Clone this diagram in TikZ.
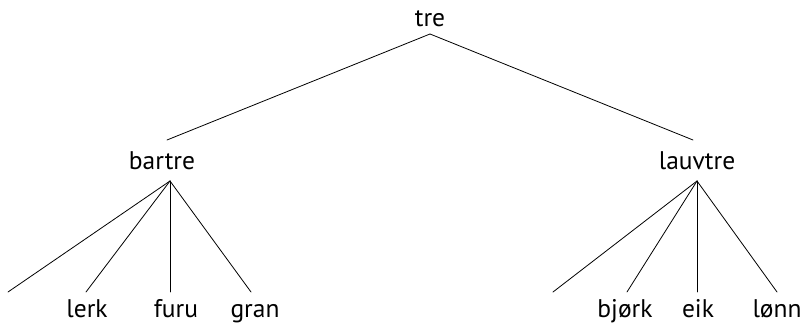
\documentclass[tikz,border=0pt]{standalone}
\usepackage{fontspec}
\setmainfont{PT Sans}
\tikzset{
  word/.style={anchor=base,inner sep=0pt,font=\fontsize{25.5}{30}\selectfont},
  branch/.style={line width=0.8pt,line cap=round}
}
\begin{document}
\begin{tikzpicture}[x=1pt,y=-1pt]
      \useasboundingbox (0,0) rectangle (803,328);
      \draw
        (430,27) node[word] (tre){tre}
        (162,170) node[word] (bartre){bartre}
        (697,170) node[word] (lauvtre){lauvtre}
        (87,318) node[word] (lerk){lerk}
        (176,318) node[word] (furu){furu}
        (255,318) node[word] (gran){gran}
        (625,318) node[word] (bjork){bjørk}
        (698,318) node[word] (eik){eik}
        (777,318) node[word] (lonn){lønn};
      \coordinate (tretop) at (430,34);
      \coordinate (barin) at (167,140);
      \coordinate (lauvin) at (693,140);
      \coordinate (barout) at (170,181);
      \coordinate (lauvout) at (697,181);
      \coordinate (barleaf) at (8,292);
      \coordinate (lerkin) at (86,292);
      \coordinate (furuin) at (170,292);
      \coordinate (granin) at (251,292);
      \coordinate (lauvleaf) at (553,292);
      \coordinate (bjorkin) at (627,292);
      \coordinate (eikin) at (697,292);
      \coordinate (lonnin) at (777,292);
      \begin{scope}[branch]
        \draw (tretop) to (barin);
        \draw (tretop) to (lauvin);
        \draw (barout) to (barleaf);
        \draw (barout) to (lerkin);
        \draw (barout) to (furuin);
        \draw (barout) to (granin);
        \draw (lauvout) to (lauvleaf);
        \draw (lauvout) to (bjorkin);
        \draw (lauvout) to (eikin);
        \draw (lauvout) to (lonnin);
      \end{scope}
    \end{tikzpicture}
\end{document}
